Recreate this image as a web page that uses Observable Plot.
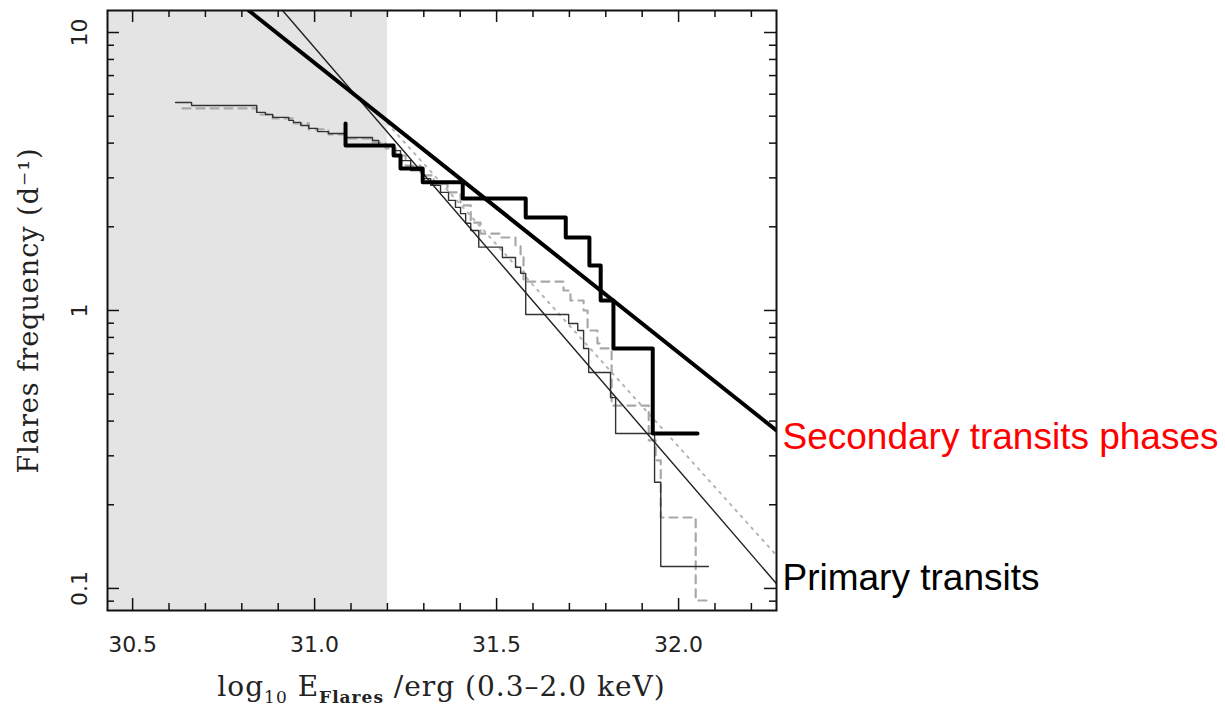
<!DOCTYPE html>
<html><head><meta charset="utf-8">
<script src="https://cdn.jsdelivr.net/npm/d3@7"></script>
<script src="https://cdn.jsdelivr.net/npm/@observablehq/plot@0.6"></script>
<style>body{margin:0;background:#fff}#chart{width:1225px;height:707px}</style>
</head><body><div id="chart"></div>
<script>
// ---- data ----
const thinStepE = [30.618,30.662,30.841,30.865,30.885,30.929,30.942,30.962,30.984,31.008,31.038,31.085,31.159,31.176,31.217,31.236,31.264,31.297,31.319,31.346,31.368,31.387,31.401,31.415,31.429,31.451,31.516,31.552,31.566,31.580,31.698,31.723,31.739,31.753,31.813,31.827,31.934,31.951,32.082];
const thinStepF = [5.60,5.46,5.16,5.07,4.95,4.83,4.75,4.63,4.52,4.40,4.33,4.19,4.09,3.92,3.76,3.46,3.19,2.98,2.82,2.66,2.49,2.35,2.23,2.06,1.94,1.69,1.55,1.43,1.36,0.967,0.898,0.847,0.730,0.598,0.486,0.361,0.241,0.120,0.120];
const dashStepE = [30.637,30.841,30.885,30.942,30.984,31.038,31.085,31.159,31.195,31.223,31.250,31.291,31.327,31.365,31.401,31.429,31.456,31.511,31.552,31.566,31.574,31.684,31.703,31.739,31.750,31.777,31.786,31.816,31.918,31.937,31.951,32.047,32.082];
const dashStepF = [5.33,5.07,4.91,4.71,4.48,4.30,4.16,4.02,3.83,3.61,3.32,3.06,2.86,2.66,2.39,2.07,1.89,1.83,1.71,1.58,1.27,1.18,1.086,1.00,0.847,0.761,0.730,0.455,0.341,0.289,0.180,0.0905,0.0905];
const thickStepE = [31.085,31.085,31.217,31.236,31.297,31.407,31.580,31.690,31.755,31.786,31.821,31.929,32.052];
const thickStepF = [4.71,3.92,3.61,3.24,2.89,2.53,2.16,1.83,1.45,1.086,0.730,0.361,0.361];
const fitSecondaryE = [30.819, 32.269];
const fitSecondaryF = [12.0, 0.370];
const fitPrimaryE = [30.912, 32.269];
const fitPrimaryF = [12.0, 0.104];
const fitDottedE = [31.2, 32.269];
const fitDottedF = [4.71, 0.1315];
const shadedRange = [30.431, 31.2];
const xDomain = [30.431, 32.269];
const yDomain = [0.0833, 12.0];
const xMajorTicks = [30.5, 31.0, 31.5, 32.0];
const xMinorTicks = [30.6,30.7,30.8,30.9,31.1,31.2,31.3,31.4,31.6,31.7,31.8,31.9,32.1,32.2];
const yMajorTicks = [0.1, 1, 10];
const yMinorTicks = [0.09,0.2,0.3,0.4,0.5,0.6,0.7,0.8,0.9,2,3,4,5,6,7,8,9];
const seriesLabels = ["Secondary transits phases", "Primary transits"];
const seriesLabelF = [0.349, 0.1086];
const seriesLabelColors = ["#ff0000", "#000000"];
const xTitleParts = ["log", "10", " E", "Flares", " /erg (0.3\u20132.0 keV)"];
const yTitle = "Flares frequency (d\u207B\u00B9)";

const W = 1225, H = 707, ML = 107, MR = 449, MT = 10, MB = 97;
const FW = W - ML - MR, FH = H - MT - MB;
const pts = (E, F) => E.map((e, i) => ({e, f: F[i]}));
const tickFont = "DejaVu Sans", titleFont = "DejaVu Serif";

const svg = Plot.plot({
  width: W, height: H,
  marginLeft: ML, marginRight: MR, marginTop: MT, marginBottom: MB,
  x: {domain: xDomain, axis: null},
  y: {type: "log", domain: yDomain, axis: null},
  style: {background: "#fff"},
  marks: [
    Plot.rect([shadedRange], {x1: d => d[0], x2: d => d[1], y1: yDomain[0], y2: yDomain[1], fill: "#e4e4e4"}),
    Plot.line(pts(fitDottedE, fitDottedF), {x: "e", y: "f", stroke: "#b5b5b5", strokeWidth: 2, strokeDasharray: "2,6", strokeLinecap: "round", clip: true}),
    Plot.line(pts(dashStepE, dashStepF), {x: "e", y: "f", curve: "step-after", stroke: "#a8a8a8", strokeWidth: 2.2, strokeDasharray: "8,6", clip: true}),
    Plot.line(pts(thinStepE, thinStepF), {x: "e", y: "f", curve: "step-after", stroke: "#333", strokeWidth: 1.4, clip: true}),
    Plot.line(pts(fitPrimaryE, fitPrimaryF), {x: "e", y: "f", stroke: "#222", strokeWidth: 1.4, clip: true}),
    Plot.line(pts(thickStepE, thickStepF), {x: "e", y: "f", curve: "step-after", stroke: "#000", strokeWidth: 4, clip: true}),
    Plot.line(pts(fitSecondaryE, fitSecondaryF), {x: "e", y: "f", stroke: "#000", strokeWidth: 4, clip: true}),
    // ticks (inward, all four sides)
    Plot.tickY(yMajorTicks, {y: d => d, insetRight: FW - 12, stroke: "#111", strokeWidth: 1.5}),
    Plot.tickY(yMajorTicks, {y: d => d, insetLeft: FW - 12, stroke: "#111", strokeWidth: 1.5}),
    Plot.tickY(yMinorTicks, {y: d => d, insetRight: FW - 7, stroke: "#111", strokeWidth: 1.5}),
    Plot.tickY(yMinorTicks, {y: d => d, insetLeft: FW - 7, stroke: "#111", strokeWidth: 1.5}),
    Plot.tickX(xMajorTicks, {x: d => d, insetTop: FH - 12, stroke: "#111", strokeWidth: 1.5}),
    Plot.tickX(xMajorTicks, {x: d => d, insetBottom: FH - 12, stroke: "#111", strokeWidth: 1.5}),
    Plot.tickX(xMinorTicks, {x: d => d, insetTop: FH - 7, stroke: "#111", strokeWidth: 1.5}),
    Plot.tickX(xMinorTicks, {x: d => d, insetBottom: FH - 7, stroke: "#111", strokeWidth: 1.5}),
    Plot.frame({stroke: "#111", strokeWidth: 2}),
    // tick labels
    Plot.text(yMajorTicks, {y: d => d, text: d => String(d), frameAnchor: "left", textAnchor: "middle", dx: -28, rotate: -90, fontSize: 22, fontFamily: tickFont, fill: "#222"}),
    Plot.text(xMajorTicks, {x: d => d, text: d => d.toFixed(1), frameAnchor: "bottom", textAnchor: "middle", dy: 41, fontSize: 22, fontFamily: tickFont, fill: "#222"}),
    // y title
    Plot.text([yTitle], {text: d => d, frameAnchor: "left", textAnchor: "middle", dx: -78, rotate: -90, fontSize: 27, fontFamily: titleFont, fill: "#222", style: {letterSpacing: "1px"}}),
    // series labels to the right of the frame
    Plot.text([0], {y: seriesLabelF[0], text: () => seriesLabels[0], frameAnchor: "right", dx: 6, textAnchor: "start", fontSize: 37, fontFamily: "Liberation Sans", fill: seriesLabelColors[0]}),
    Plot.text([1], {y: seriesLabelF[1], text: () => seriesLabels[1], frameAnchor: "right", dx: 6, textAnchor: "start", fontSize: 37, fontFamily: "Liberation Sans", fill: seriesLabelColors[1]})
  ]
});

// y title letter spacing (applied to the rendered text)
d3.select(svg).selectAll("text").filter(function() { return this.textContent === yTitle; }).style("letter-spacing", "1px");

// x-axis title with subscripts
const xr = svg.scale("x").range;
const t = d3.select(svg).append("text")
  .attr("x", (xr[0] + xr[1]) / 2).attr("y", H - 11)
  .attr("text-anchor", "middle").attr("fill", "#222")
  .style("font-family", titleFont).style("font-size", "28px").style("letter-spacing", "1px");
t.append("tspan").text(xTitleParts[0]);
t.append("tspan").attr("dy", 7).style("font-size", "17px").text(xTitleParts[1]);
t.append("tspan").attr("dy", -7).text(xTitleParts[2]);
t.append("tspan").attr("dy", 7).style("font-size", "17px").style("font-weight", "bold").text(xTitleParts[3]);
t.append("tspan").attr("dy", -7).text(xTitleParts[4]);

document.getElementById("chart").appendChild(svg);
</script>
</body></html>
